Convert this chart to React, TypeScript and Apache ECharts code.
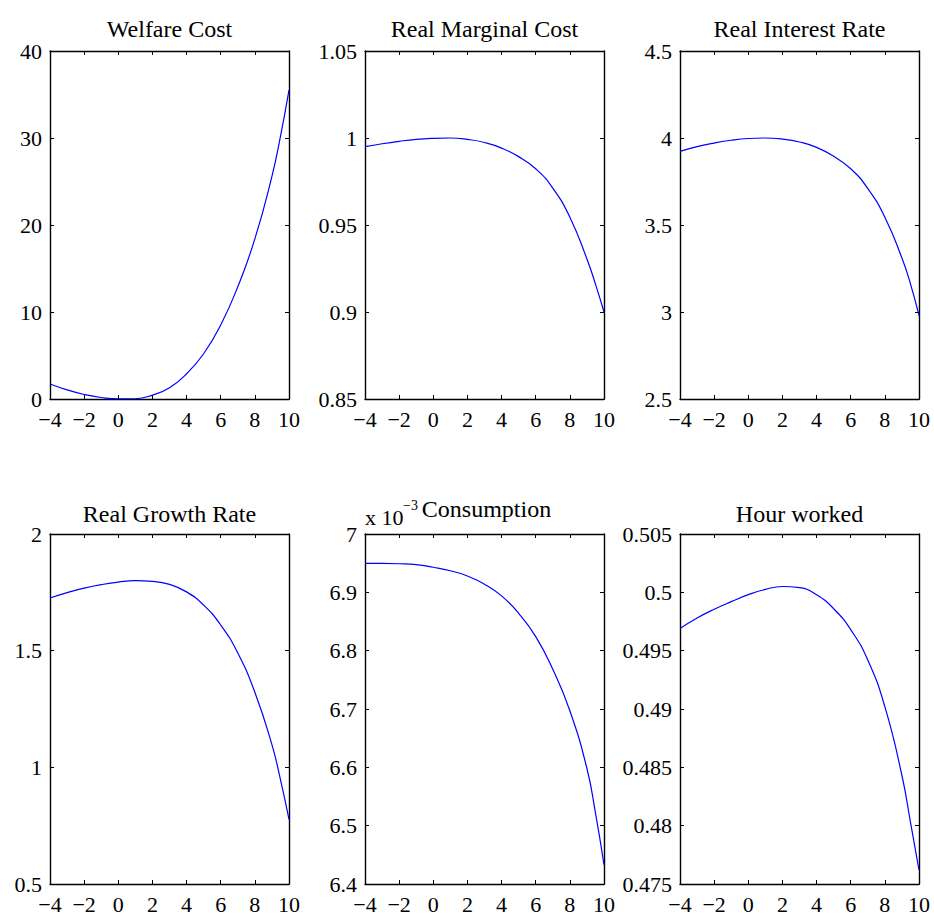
import React, { useEffect, useRef } from "react";
import * as echarts from "echarts";

// x grid (shared by all panels)
const xs = [-4, -3, -2, -1, 0, 1, 2, 3, 4, 5, 6, 7, 8, 9, 9.5, 10];
const xTicks = [-4, -2, 0, 2, 4, 6, 8, 10];

// series values
const welfareCost = [1.72, 1.05, 0.52, 0.17, 0.01, 0.03, 0.45, 1.3, 2.9, 5.2, 8.5, 12.9, 18.4, 25.6, 30.2, 35.5];
const realMarginalCost = [0.995, 0.9967, 0.9981, 0.9992, 0.9998, 1.0, 0.9992, 0.9974, 0.9942, 0.9893, 0.9823, 0.9712, 0.9545, 0.9305, 0.916, 0.9];
const realInterestRate = [3.923, 3.95, 3.971, 3.987, 3.997, 4.0, 3.994, 3.977, 3.946, 3.895, 3.823, 3.71, 3.545, 3.31, 3.162, 2.98];
const realGrowthRate = [1.7255, 1.749, 1.768, 1.783, 1.794, 1.8, 1.797, 1.784, 1.752, 1.695, 1.61, 1.49, 1.322, 1.097, 0.947, 0.777];
const consumption = [6.9495, 6.9495, 6.949, 6.9475, 6.943, 6.937, 6.928, 6.914, 6.894, 6.864, 6.824, 6.768, 6.697, 6.598, 6.522, 6.433]; // x 10^-3
const hourWorked = [0.4969, 0.4978, 0.49855, 0.4992, 0.4998, 0.50025, 0.5005, 0.5004, 0.4998, 0.4986, 0.4968, 0.4942, 0.4902, 0.4843, 0.4803, 0.4762];

// titles and y tick labels
const titles = ["Welfare Cost", "Real Marginal Cost", "Real Interest Rate", "Real Growth Rate", "Consumption", "Hour worked"];
const yTicks1 = [0, 10, 20, 30, 40];
const yTicks2 = [0.85, 0.9, 0.95, 1, 1.05];
const yTicks3 = [2.5, 3, 3.5, 4, 4.5];
const yTicks4 = [0.5, 1, 1.5, 2];
const yTicks5 = [6.4, 6.5, 6.6, 6.7, 6.8, 6.9, 7];
const yTicks6 = [0.475, 0.48, 0.485, 0.49, 0.495, 0.5, 0.505];
const expBase = "x 10";
const expPower = "\u22123";

const seriesValues = [welfareCost, realMarginalCost, realInterestRate, realGrowthRate, consumption, hourWorked];
const yTickSets = [yTicks1, yTicks2, yTicks3, yTicks4, yTicks5, yTicks6];

const FONT = "Liberation Serif";

const grids = [
  { left: 50, top: 51, width: 239, height: 348 },
  { left: 365, top: 51, width: 239, height: 348 },
  { left: 680, top: 51, width: 239, height: 348 },
  { left: 50, top: 534, width: 239, height: 350 },
  { left: 365, top: 534, width: 239, height: 350 },
  { left: 680, top: 534, width: 239, height: 350 },
];
const titleY = [29, 29, 29, 514, 509, 514];
const titleDx = [0, 0, 0, 0, 2, 0];

const fmt = (v: number) => String(parseFloat(v.toFixed(4))).replace("-", "\u2212");

export default function App() {
  const ref = useRef<HTMLDivElement>(null);
  useEffect(() => {
    if (!ref.current) return;
    const chart = echarts.init(ref.current, undefined, { renderer: "svg" });
    const axisLine = { show: true, onZero: false, lineStyle: { color: "#000", width: 1.4 } };
    const axisTick = { show: true, inside: true, length: 4, lineStyle: { color: "#000", width: 1 } };
    const label = { color: "#000", fontSize: 22, fontFamily: FONT };
    const xAxis: any[] = [];
    const yAxis: any[] = [];
    const series: any[] = [];
    const graphic: any[] = [];
    grids.forEach((g, i) => {
      const yt = yTickSets[i];
      const ymin = yt[0];
      const ymax = yt[yt.length - 1];
      const yint = parseFloat((yt[1] - yt[0]).toFixed(6));
      const xint = xTicks[1] - xTicks[0];
      const common = { type: "value", gridIndex: i, splitLine: { show: false }, axisLine, axisTick };
      xAxis.push({ ...common, position: "bottom", min: xTicks[0], max: xTicks[xTicks.length - 1], interval: xint,
        axisLabel: { ...label, margin: 9, formatter: fmt } });
      xAxis.push({ ...common, position: "top", min: xTicks[0], max: xTicks[xTicks.length - 1], interval: xint,
        axisLabel: { show: false } });
      yAxis.push({ ...common, position: "left", min: ymin, max: ymax, interval: yint,
        axisLabel: { ...label, margin: 8, formatter: fmt } });
      yAxis.push({ ...common, position: "right", min: ymin, max: ymax, interval: yint,
        axisLabel: { show: false } });
      series.push({
        type: "line",
        xAxisIndex: 2 * i,
        yAxisIndex: 2 * i,
        data: xs.map((x, k) => [x, seriesValues[i][k]]),
        showSymbol: false,
        smooth: 0.5,
        lineStyle: { color: "#0000ff", width: 1.2 },
        silent: true,
      });
      graphic.push({
        type: "text",
        x: g.left + g.width / 2 + titleDx[i],
        y: titleY[i],
        style: { text: titles[i], fill: "#000", fontFamily: FONT, fontSize: 24, textAlign: "center", textVerticalAlign: "middle" },
      });
    });
    graphic.push({
      type: "text", x: 365, y: 517,
      style: { text: expBase, fill: "#000", fontFamily: FONT, fontSize: 22, textAlign: "left", textVerticalAlign: "middle" },
    });
    graphic.push({
      type: "text", x: 403, y: 505,
      style: { text: expPower, fill: "#000", fontFamily: FONT, fontSize: 14, textAlign: "left", textVerticalAlign: "middle" },
    });
    chart.setOption({
      animation: false,
      backgroundColor: "#fff",
      grid: grids.map((g) => ({ ...g, show: false, containLabel: false })),
      xAxis,
      yAxis,
      series,
      graphic,
    });
    return () => chart.dispose();
  }, []);
  return <div ref={ref} style={{ position: "absolute", left: 0, top: 0, width: 934, height: 920, background: "#fff" }} />;
}
